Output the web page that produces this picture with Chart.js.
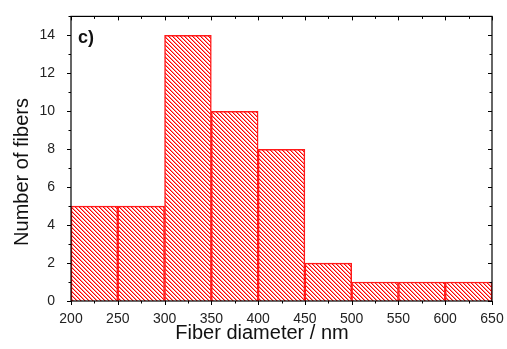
<!DOCTYPE html>
<html>
<head>
<meta charset="utf-8">
<script src="https://cdn.jsdelivr.net/npm/chart.js@4.4.1/dist/chart.umd.min.js"></script>
<style>
  html, body { margin: 0; padding: 0; background: #fff; }
  #wrap { width: 507px; height: 349px; }
</style>
</head>
<body>
<div id="wrap"><canvas id="chart"></canvas></div>
<script>
// ================= DATA =================
const binStarts = [200, 250, 300, 350, 400, 450, 500, 550, 600];
const binWidth = 50;
const counts = [5, 5, 14, 10, 8, 2, 1, 1, 1];
const xTicks = [200, 250, 300, 350, 400, 450, 500, 550, 600, 650];
const yTicks = [0, 2, 4, 6, 8, 10, 12, 14];
const panelLabel = "c)";
const xTitle = "Fiber diameter / nm";
const yTitle = "Number of fibers";

// ================= HATCH =================
function hatch(){
  const c = document.createElement("canvas");
  c.width = 4; c.height = 4;
  const g = c.getContext("2d");
  g.fillStyle = "#ffffff"; g.fillRect(0,0,4,4);
  for(let i=0;i<4;i++){
    g.fillStyle = "#ff0000"; g.fillRect(i,i,1,1);
    g.fillStyle = "#ff9090"; g.fillRect((i+1)%4,i,1,1);
  }
  return g.createPattern(c,"repeat");
}

const FONT = "'Liberation Sans', Arial, sans-serif";

// ticks + frame + texts
const framePlugin = {
  id: "frame",
  afterDraw(chart){
    const {ctx, chartArea:a, scales:{x,y}} = chart;
    ctx.save();
    ctx.strokeStyle = "#000"; ctx.lineWidth = 1.2;
    ctx.strokeRect(a.left, a.top, a.right-a.left, a.bottom-a.top);
    ctx.lineWidth = 1;
    ctx.beginPath();
    for(let v=200; v<=650; v+=25){
      const px = Math.round(x.getPixelForValue(v))+0.5;
      const len = v%50===0 ? 4 : 2.5;
      ctx.moveTo(px,a.bottom); ctx.lineTo(px,a.bottom+len);
      ctx.moveTo(px,a.top); ctx.lineTo(px,a.top+len);
    }
    for(let v=0; v<=15; v++){
      const py = Math.round(y.getPixelForValue(v))+0.5;
      const len = v%2===0 ? 4 : 2.5;
      ctx.moveTo(a.left,py); ctx.lineTo(a.left-len,py);
      ctx.moveTo(a.right,py); ctx.lineTo(a.right-len,py);
    }
    ctx.stroke();

    ctx.fillStyle = "#111";
    ctx.font = "bold 18px " + FONT;
    ctx.textAlign = "left"; ctx.textBaseline = "middle";
    ctx.fillText(panelLabel, a.left+7, 38);

    ctx.font = "20px " + FONT;
    ctx.textAlign = "center";
    ctx.fillText(xTitle, 262, 333);
    ctx.translate(22, 172);
    ctx.rotate(-Math.PI/2);
    ctx.fillText(yTitle, 0, 0);
    ctx.restore();
  }
};

new Chart(document.getElementById("chart"), {
  type: "bar",
  data: {
    datasets: [{
      data: binStarts.map((s,i)=>({x: s+binWidth/2, y: counts[i]})),
      backgroundColor: hatch(),
      borderColor: "#ff1a1a",
      borderWidth: 1.5,
      barPercentage: 1,
      categoryPercentage: 1
    }]
  },
  options: {
    responsive: true,
    maintainAspectRatio: false,
    animation: false,
    layout: { padding: { top: 16, right: 15, left: 0, bottom: 0 } },
    plugins: { legend: { display: false }, tooltip: { enabled: false } },
    scales: {
      x: {
        type: "linear", min: 200, max: 650, offset: false,
        afterBuildTicks: s => { s.ticks = xTicks.map(v=>({value:v})); },
        afterFit: s => { s.height = 48; },
        grid: { display: false, offset: false },
        border: { display: false },
        ticks: { color: "#222", font: { size: 14, family: FONT }, padding: 2 }
      },
      y: {
        min: 0, max: 15,
        afterBuildTicks: s => { s.ticks = yTicks.map(v=>({value:v})); },
        afterFit: s => { s.width = 71; },
        grid: { display: false },
        border: { display: false },
        ticks: { color: "#222", font: { size: 14, family: FONT }, padding: 8 }
      }
    }
  },
  plugins: [framePlugin]
});
</script>
</body>
</html>
